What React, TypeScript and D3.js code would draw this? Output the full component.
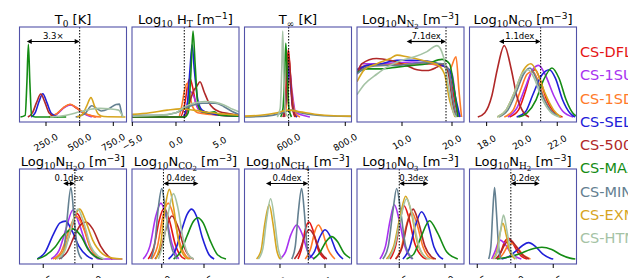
import React from "react";
import * as d3 from "d3";

// legend / series
const seriesNames = ["CS-DFLT", "CS-1SUN", "CS-1SDN", "CS-SELF", "CS-500W", "CS-MAX", "CS-MIN", "CS-EXM", "CS-HTM"];
const seriesColors = ["#e51515", "#a832f0", "#ff7a28", "#2020d8", "#b02828", "#148c14", "#648091", "#d7a51e", "#a5c3a5"];

// titles: [text, level] level 0 normal, 1 sub, 2 sub-sub, 3 sup
const panelTitles: [string, number][][] = [
  [["T", 0], ["0", 1], [" [K]", 0]],
  [["Log", 0], ["10", 1], [" H", 0], ["T", 1], [" [m", 0], ["\u22121", 3], ["]", 0]],
  [["T", 0], ["\u221e", 1], [" [K]", 0]],
  [["Log", 0], ["10", 1], ["N", 0], ["N", 1], ["2", 2], [" [m", 0], ["\u22123", 3], ["]", 0]],
  [["Log", 0], ["10", 1], ["N", 0], ["CO", 1], [" [m", 0], ["\u22123", 3], ["]", 0]],
  [["Log", 0], ["10", 1], ["N", 0], ["H", 1], ["2", 2], ["O", 1], [" [m", 0], ["\u22123", 3], ["]", 0]],
  [["Log", 0], ["10", 1], ["N", 0], ["CO", 1], ["2", 2], [" [m", 0], ["\u22123", 3], ["]", 0]],
  [["Log", 0], ["10", 1], ["N", 0], ["CH", 1], ["4", 2], [" [m", 0], ["\u22123", 3], ["]", 0]],
  [["Log", 0], ["10", 1], ["N", 0], ["O", 1], ["3", 2], [" [m", 0], ["\u22123", 3], ["]", 0]],
  [["Log", 0], ["10", 1], ["N", 0], ["H", 1], ["2", 2], [" [m", 0], ["\u22123", 3], ["]", 0]],
];

const panelDomains = [
  [53, 848], [-5.04, 7.22], [444, 822], [1, 22.4], [17.03, 23.09],
  [11.3, 16.71], [8.24, 14.57], [3.03, 8.97], [10.19, 16.04], [11.99, 19.03],
];
const panelTicks = [
  [250, 500, 750], [-5, 0, 5], [600, 800], [10, 20], [18, 20, 22],
  [12.5, 15], [10, 12.5], [5, 7.5], [12.5, 15], [12.5, 15, 17.5],
];
// dotted reference value and the far end of the double arrow
const markerValues = [500, 0.95, 600, 18.8, 21.06, 14.1, 10.1, 6.57, 12.5, 14.71];
const arrowEnds: (number | null)[] = [107, null, null, 10.93, 18.7, 13.51, 12.17, 4.22, 14.09, 16.6];
const arrowLabels = ["3.3\u00d7", "", "", "7.1dex", "1.1dex", "0.1dex", "0.4dex", "0.4dex", "0.3dex", "0.2dex"];

// curves: x, density pairs (density as share of panel height), series order as seriesNames
const t0Curves = [
  [275, 0, 335, 0.04, 383, 0.11, 430, 0.145, 478, 0.1, 535, 0.04, 620, 0],
  [280, 0, 335, 0.04, 385, 0.11, 435, 0.14, 485, 0.1, 540, 0.03, 590, 0],
  [270, 0, 330, 0.04, 380, 0.11, 428, 0.148, 475, 0.11, 530, 0.05, 600, 0.01, 660, 0],
  [140, 0, 170, 0.05, 198, 0.18, 226, 0.27, 256, 0.17, 290, 0.04, 340, 0],
  [115, 0, 150, 0.05, 180, 0.17, 211, 0.267, 242, 0.17, 272, 0.05, 320, 0],
  [60, 0, 95, 0.02, 108, 0.4, 119, 0.845, 130, 0.4, 143, 0.02, 170, 0, 400, 0],
  [470, 0, 540, 0.04, 590, 0.13, 625, 0.1, 660, 0.07, 720, 0.1, 770, 0.145, 795, 0.15, 808, 0.07, 818, 0],
  [480, 0, 520, 0.03, 550, 0.12, 584, 0.225, 612, 0.12, 640, 0.03, 680, 0.005, 840, 0],
  [280, 0, 400, 0.02, 500, 0.06, 580, 0.09, 650, 0.1, 720, 0.095, 790, 0.08, 812, 0.03, 825, 0],
];
const htCurves = [
  [-5, 0, 0.5, 0, 1.0, 0.15, 1.4, 0.4, 1.6, 0.45, 1.9, 0.35, 2.3, 0.15, 3.0, 0.07, 4.5, 0.03, 7.2, 0.01],
  [-5, 0, 0.8, 0, 1.2, 0.1, 1.6, 0.3, 2.0, 0.25, 2.5, 0.1, 3, 0.05, 4.5, 0.03, 7.2, 0.01],
  [-5, 0, 0.3, 0, 0.7, 0.15, 1.0, 0.32, 1.25, 0.39, 1.5, 0.3, 1.9, 0.12, 2.5, 0.05, 4, 0.03, 7.2, 0.01],
  [-5, 0, 0.8, 0, 1.3, 0.15, 1.6, 0.55, 1.85, 0.84, 2.1, 0.55, 2.5, 0.2, 3.0, 0.08, 4, 0.04, 5, 0.02, 7.2, 0.01],
  [-5, 0, 1.0, 0, 1.5, 0.15, 2.0, 0.3, 2.4, 0.36, 2.75, 0.41, 3.2, 0.3, 3.7, 0.18, 4.3, 0.1, 5, 0.06, 6, 0.04, 7.2, 0.02],
  [-5, 0, 1.0, 0, 1.4, 0.05, 1.7, 0.5, 1.95, 1.0, 2.2, 0.6, 2.5, 0.15, 3.0, 0.06, 3.8, 0.05, 4.4, 0.06, 5.0, 0.02, 7.2, 0.01],
  [-5, 0.02, -2, 0.02, 0, 0.05, 1, 0.1, 2, 0.14, 3, 0.16, 4.5, 0.16, 5.5, 0.12, 6.5, 0.06, 7.2, 0.03],
  [-5, 0.03, -3, 0.05, -1, 0.08, 0.5, 0.095, 2, 0.08, 4, 0.05, 6, 0.03, 7.2, 0.02],
  [-5, 0.01, -2, 0.02, 0, 0.05, 1, 0.12, 2, 0.16, 3.3, 0.18, 4.5, 0.17, 5.5, 0.14, 6.5, 0.09, 7.2, 0.06],
];
const tinfCurves = [
  [580, 0, 588, 0.15, 594, 0.6, 599, 0.78, 605, 0.55, 612, 0.15, 622, 0],
  [585, 0, 595, 0.3, 603, 0.55, 612, 0.3, 625, 0.05, 650, 0.02, 675, 0],
  [586, 0, 595, 0.2, 604, 0.45, 612, 0.25, 622, 0.05, 640, 0],
  [583, 0, 592, 0.25, 601, 0.6, 609, 0.3, 618, 0.05, 630, 0],
  [582, 0, 590, 0.2, 597, 0.6, 601, 0.7, 607, 0.45, 615, 0.1, 625, 0],
  [572, 0, 580, 0.1, 586, 0.5, 590, 0.857, 595, 0.5, 601, 0.1, 610, 0],
  [444, 0, 520, 0.01, 570, 0.04, 595, 0.07, 610, 0.08, 640, 0.05, 700, 0.02, 822, 0.005],
  [444, 0.01, 500, 0.02, 560, 0.05, 600, 0.08, 640, 0.06, 700, 0.03, 760, 0.015, 822, 0.01],
  [560, 0, 570, 0.1, 576, 0.6, 579, 1.0, 583, 0.5, 589, 0.05, 600, 0],
];
const n2Curves = [
  [1, 0.52, 3, 0.6, 6, 0.62, 9, 0.61, 12, 0.62, 15, 0.62, 17.5, 0.6, 19, 0.58, 20.5, 0.2, 21.2, 0],
  [1, 0.5, 2, 0.62, 5, 0.62, 9, 0.63, 12, 0.64, 15, 0.62, 18, 0.6, 20, 0.5, 21, 0.1, 21.5, 0],
  [1, 0.55, 3, 0.6, 6, 0.6, 9, 0.62, 12, 0.62, 15, 0.62, 18, 0.6, 19.5, 0.55, 20.8, 0.7, 21.4, 0.3, 21.9, 0],
  [1, 0.55, 3, 0.6, 6, 0.62, 9, 0.66, 12, 0.66, 15, 0.65, 18, 0.6, 19.5, 0.55, 20.8, 0.2, 21.6, 0],
  [1, 0.5, 2, 0.62, 4.9, 0.68, 7.6, 0.66, 10.9, 0.6, 13, 0.55, 15, 0.54, 17, 0.58, 18.3, 0.62, 19.3, 0.5, 20.3, 0.1, 20.9, 0],
  [1, 0.52, 3, 0.56, 6, 0.56, 9, 0.58, 12, 0.6, 15, 0.62, 18, 0.67, 19.5, 0.62, 20.5, 0.3, 21.2, 0],
  [1, 0.5, 3, 0.58, 6, 0.6, 9, 0.6, 12, 0.62, 15, 0.63, 18, 0.62, 19.3, 0.55, 20.2, 0.2, 20.9, 0],
  [1, 0.41, 2.5, 0.55, 5, 0.62, 7.6, 0.68, 9, 0.72, 11, 0.7, 14, 0.66, 17, 0.61, 18.5, 0.5, 19.5, 0.2, 20.6, 0],
  [1, 0.26, 2.5, 0.38, 5, 0.5, 7.6, 0.6, 10, 0.66, 12.5, 0.7, 15, 0.76, 17, 0.83, 18.3, 0.7, 19.3, 0.35, 20.3, 0.05, 20.9, 0],
];
const coCurves = [
  [19.3, 0, 19.8, 0.08, 20.2, 0.3, 20.5, 0.5, 20.75, 0.55, 21.0, 0.45, 21.4, 0.2, 21.9, 0.04, 22.3, 0],
  [19.2, 0, 19.7, 0.1, 20.2, 0.35, 20.6, 0.55, 20.95, 0.6, 21.3, 0.5, 21.8, 0.25, 22.3, 0.07, 22.9, 0],
  [19.0, 0, 19.5, 0.08, 19.9, 0.3, 20.3, 0.5, 20.6, 0.53, 20.9, 0.43, 21.3, 0.2, 21.8, 0.04, 22.2, 0],
  [19.7, 0, 20.2, 0.06, 20.6, 0.25, 21.1, 0.48, 21.55, 0.55, 21.9, 0.45, 22.3, 0.2, 22.7, 0.05, 23.0, 0],
  [17.5, 0, 17.9, 0.05, 18.3, 0.25, 18.6, 0.55, 19.0, 0.83, 19.4, 0.55, 19.7, 0.25, 20.1, 0.05, 20.4, 0],
  [19.8, 0, 20.3, 0.05, 20.8, 0.2, 21.2, 0.42, 21.7, 0.57, 22.1, 0.45, 22.5, 0.2, 22.9, 0.04, 23.09, 0.01],
  [18.7, 0, 19.2, 0.08, 19.7, 0.3, 20.1, 0.5, 20.45, 0.57, 20.8, 0.45, 21.2, 0.23, 21.7, 0.06, 22.2, 0],
  [18.6, 0, 19.1, 0.08, 19.6, 0.3, 20.1, 0.55, 20.5, 0.62, 20.9, 0.5, 21.3, 0.28, 21.8, 0.08, 22.2, 0],
  [18.6, 0, 19.1, 0.08, 19.6, 0.3, 20.0, 0.5, 20.35, 0.55, 20.7, 0.45, 21.1, 0.23, 21.6, 0.06, 22.1, 0],
];
const h2oCurves = [
  [13.1, 0, 13.5, 0.08, 13.9, 0.33, 14.2, 0.53, 14.5, 0.4, 14.9, 0.13, 15.3, 0.02, 15.5, 0],
  [12.9, 0, 13.3, 0.1, 13.65, 0.35, 14.0, 0.57, 14.3, 0.42, 14.7, 0.15, 15.1, 0.03, 15.3, 0, 16.5, 0],
  [13.0, 0, 13.4, 0.08, 13.8, 0.33, 14.15, 0.5, 14.5, 0.38, 14.9, 0.12, 15.3, 0.02, 15.5, 0],
  [12.2, 0, 12.6, 0.08, 13.0, 0.28, 13.35, 0.42, 13.63, 0.44, 13.95, 0.33, 14.3, 0.15, 14.7, 0.04, 15.0, 0],
  [13.3, 0, 13.7, 0.08, 14.1, 0.28, 14.4, 0.4, 14.66, 0.43, 15.0, 0.35, 15.4, 0.15, 15.8, 0.03, 16.0, 0],
  [12.2, 0, 12.6, 0.04, 13.1, 0.14, 13.5, 0.27, 14.0, 0.35, 14.4, 0.27, 14.8, 0.1, 15.2, 0.02, 15.5, 0],
  [13.4, 0, 13.55, 0.1, 13.7, 0.45, 13.9, 0.83, 14.07, 0.45, 14.25, 0.1, 14.45, 0],
  [13.1, 0, 13.5, 0.08, 13.9, 0.35, 14.15, 0.53, 14.35, 0.58, 14.6, 0.47, 15.0, 0.22, 15.5, 0.06, 16.0, 0.01, 16.5, 0],
  [13.2, 0, 13.6, 0.1, 13.95, 0.4, 14.25, 0.58, 14.55, 0.42, 14.9, 0.15, 15.3, 0.03, 15.6, 0],
];
const co2Curves = [
  [9.2, 0, 9.55, 0.15, 9.85, 0.45, 10.14, 0.59, 10.45, 0.45, 10.8, 0.17, 11.2, 0.02, 11.4, 0],
  [8.9, 0, 9.3, 0.15, 9.65, 0.5, 9.95, 0.65, 10.25, 0.5, 10.6, 0.18, 11.0, 0],
  [9.4, 0, 9.75, 0.15, 10.05, 0.48, 10.38, 0.65, 10.7, 0.5, 11.05, 0.2, 11.5, 0.02, 11.7, 0],
  [10.4, 0, 10.8, 0.1, 11.2, 0.35, 11.5, 0.52, 11.77, 0.58, 12.05, 0.5, 12.4, 0.25, 12.8, 0.05, 13.1, 0],
  [9.6, 0, 9.95, 0.12, 10.3, 0.38, 10.6, 0.5, 10.95, 0.38, 11.3, 0.15, 11.7, 0.02, 11.9, 0],
  [10.7, 0, 11.1, 0.08, 11.5, 0.27, 11.85, 0.43, 12.13, 0.48, 12.45, 0.42, 12.85, 0.22, 13.3, 0.05, 13.8, 0],
  [9.35, 0, 9.6, 0.2, 9.8, 0.6, 10.0, 0.82, 10.2, 0.6, 10.5, 0.2, 10.9, 0],
  [9.65, 0, 9.95, 0.2, 10.2, 0.6, 10.45, 0.81, 10.7, 0.6, 11.0, 0.2, 11.4, 0.02, 11.6, 0],
  [9.8, 0, 10.1, 0.2, 10.4, 0.55, 10.69, 0.76, 10.95, 0.6, 11.25, 0.25, 11.6, 0.04, 11.9, 0],
];
const ch4Curves = [
  [6.0, 0, 6.2, 0.12, 6.4, 0.34, 6.61, 0.43, 6.85, 0.32, 7.1, 0.12, 7.5, 0],
  [5.0, 0, 5.3, 0.08, 5.6, 0.28, 5.93, 0.395, 6.25, 0.28, 6.55, 0.08, 6.9, 0],
  [6.4, 0, 6.7, 0.12, 6.95, 0.33, 7.13, 0.395, 7.35, 0.32, 7.65, 0.12, 8.05, 0],
  [6.55, 0, 6.9, 0.08, 7.2, 0.25, 7.5, 0.34, 7.8, 0.26, 8.1, 0.1, 8.5, 0],
  [5.8, 0, 6.1, 0.1, 6.4, 0.28, 6.63, 0.34, 6.9, 0.27, 7.2, 0.1, 7.6, 0],
  [6.85, 0, 7.2, 0.07, 7.55, 0.2, 7.87, 0.26, 8.2, 0.2, 8.55, 0.07, 8.9, 0.01],
  [5.65, 0, 5.85, 0.15, 6.02, 0.55, 6.2, 0.82, 6.35, 0.55, 6.5, 0.15, 6.65, 0],
  [3.7, 0, 3.95, 0.1, 4.15, 0.4, 4.4, 0.63, 4.62, 0.4, 4.82, 0.1, 5.0, 0],
  [3.8, 0, 4.05, 0.12, 4.25, 0.45, 4.48, 0.7, 4.7, 0.45, 4.9, 0.12, 5.1, 0],
];
const o3Curves = [
  [12.0, 0, 12.3, 0.15, 12.55, 0.45, 12.76, 0.62, 13.0, 0.5, 13.35, 0.18, 13.8, 0.02, 14.0, 0],
  [11.44, 0, 11.75, 0.15, 12.0, 0.45, 12.23, 0.63, 12.5, 0.45, 12.8, 0.15, 13.2, 0],
  [12.3, 0, 12.6, 0.12, 12.9, 0.4, 13.17, 0.55, 13.45, 0.42, 13.8, 0.14, 14.2, 0.01, 14.4, 0],
  [12.7, 0, 13.05, 0.12, 13.4, 0.4, 13.72, 0.55, 14.05, 0.42, 14.4, 0.14, 14.8, 0.01, 14.9, 0],
  [12.3, 0, 12.65, 0.13, 12.95, 0.42, 13.26, 0.58, 13.55, 0.43, 13.9, 0.15, 14.3, 0.02, 14.5, 0],
  [12.9, 0, 13.3, 0.06, 13.7, 0.26, 14.15, 0.445, 14.6, 0.3, 15.1, 0.08, 15.7, 0],
  [11.6, 0, 11.9, 0.15, 12.15, 0.55, 12.36, 0.82, 12.58, 0.55, 12.85, 0.15, 13.25, 0],
  [11.8, 0, 12.2, 0.15, 12.55, 0.5, 12.85, 0.73, 13.15, 0.55, 13.5, 0.18, 14.0, 0.01, 14.1, 0],
  [11.9, 0, 12.25, 0.15, 12.6, 0.5, 12.9, 0.7, 13.2, 0.52, 13.55, 0.17, 14.0, 0.01, 14.2, 0],
];
const h2Curves = [
  [13.8, 0, 14.05, 0.08, 14.3, 0.2, 14.56, 0.24, 14.85, 0.18, 15.2, 0.07, 15.6, 0.01, 15.8, 0],
  [13.45, 0, 13.7, 0.1, 13.9, 0.2, 14.0, 0.22, 14.3, 0.18, 14.6, 0.1, 15.0, 0.03, 15.4, 0],
  [13.9, 0, 14.2, 0.06, 14.5, 0.15, 14.78, 0.18, 15.1, 0.14, 15.5, 0.05, 16.0, 0],
  [14.1, 0, 14.6, 0.03, 15.1, 0.1, 15.5, 0.16, 15.88, 0.19, 16.3, 0.15, 16.8, 0.06, 17.3, 0.01, 17.5, 0],
  [13.7, 0, 14.0, 0.06, 14.35, 0.18, 14.67, 0.22, 15.0, 0.16, 15.4, 0.06, 15.9, 0],
  [13.8, 0, 14.5, 0.02, 15.3, 0.06, 16.0, 0.11, 16.75, 0.136, 17.4, 0.11, 18.0, 0.05, 18.6, 0.01, 18.95, 0],
  [13.25, 0, 13.4, 0.15, 13.52, 0.55, 13.64, 0.83, 13.76, 0.55, 13.9, 0.15, 14.05, 0],
  [13.55, 0, 13.8, 0.1, 14.0, 0.3, 14.19, 0.415, 14.4, 0.28, 14.65, 0.08, 15.0, 0],
  [13.6, 0, 13.85, 0.1, 14.05, 0.35, 14.23, 0.51, 14.45, 0.33, 14.7, 0.1, 15.1, 0],
];

const panelCurves = [t0Curves, htCurves, tinfCurves, n2Curves, coCurves, h2oCurves, co2Curves, ch4Curves, o3Curves, h2Curves];

// layout
const colLeft = [19.5, 132, 244.5, 357, 469.5];
const rowTop = [27, 169];
const panelW = 107;
const panelH = 95;
const frameColor = "#5252a8";
const sans = "DejaVu Sans, sans-serif";
const serif = "DejaVu Serif, serif";

const levelSize = [13, 9, 7, 9];
const levelShift = [0, 3.5, 5.5, -5];

const toPairs = (flat: number[]) => d3.range(0, flat.length, 2).map((k) => [flat[k], flat[k + 1]] as [number, number]);

const Title = ({ parts, x, y }: { parts: [string, number][]; x: number; y: number }) => {
  let prev = 0;
  return (
    <text x={x} y={y} textAnchor="middle" fontFamily={sans} fontSize={13} fill="#000">
      {parts.map(([t, lvl], k) => {
        const dy = levelShift[lvl] - prev;
        prev = levelShift[lvl];
        return (
          <tspan key={k} dy={dy} fontSize={levelSize[lvl]} fontFamily={lvl === 1 || lvl === 2 ? serif : sans}>
            {t}
          </tspan>
        );
      })}
    </text>
  );
};

const Arrow = ({ x1, x2, y }: { x1: number; x2: number; y: number }) => {
  const a = Math.min(x1, x2), b = Math.max(x1, x2);
  const hl = 5, hw = 2.6;
  return (
    <g>
      <line x1={a + hl - 1} x2={b - hl + 1} y1={y} y2={y} stroke="#000" strokeWidth={1.2} />
      <polygon points={`${a},${y} ${a + hl},${y - hw} ${a + hl},${y + hw}`} fill="#000" />
      <polygon points={`${b},${y} ${b - hl},${y - hw} ${b - hl},${y + hw}`} fill="#000" />
    </g>
  );
};

const Panel = ({ i }: { i: number }) => {
  const row = Math.floor(i / 5), col = i % 5;
  const left = colLeft[col], top = rowTop[row];
  const bottom = top + panelH;
  const x = d3.scaleLinear().domain(panelDomains[i]).range([left, left + panelW]);
  const y = d3.scaleLinear().domain([0, 1]).range([bottom - 5, top + 4]);
  const line = d3.line<[number, number]>().x((d) => x(d[0])).y((d) => y(d[1])).curve(d3.curveMonotoneX);
  const fmt = d3.format(".1f");
  const mx = x(markerValues[i]);
  const end = arrowEnds[i];
  const labelY = row === 0 ? 142.5 : 283;
  return (
    <g>
      <clipPath id={`clip${i}`}>
        <rect x={left} y={top} width={panelW} height={panelH} />
      </clipPath>
      <g clipPath={`url(#clip${i})`}>
        {panelCurves[i].map((c, s) => (
          <path key={s} d={line(toPairs(c)) || ""} fill="none" stroke={seriesColors[s]} strokeWidth={1.6} />
        ))}
      </g>
      <line x1={mx} x2={mx} y1={top} y2={bottom} stroke="#000" strokeWidth={1} strokeDasharray="1.5,1.5" />
      {end !== null && (
        <g>
          <Arrow x1={x(end)} x2={mx} y={top + 14.5} />
          <text x={(x(end) + mx) / 2} y={top + 12} textAnchor="middle" fontFamily={sans} fontSize={8.5}>
            {arrowLabels[i]}
          </text>
        </g>
      )}
      <rect x={left} y={top} width={panelW} height={panelH} fill="none" stroke={frameColor} strokeWidth={1.1} />
      {panelTicks[i].map((t) => (
        <g key={t}>
          <line x1={x(t)} x2={x(t)} y1={bottom} y2={bottom + 4} stroke="#000" strokeWidth={1} />
          <text
            transform={`translate(${x(t)},${labelY}) rotate(-30)`}
            textAnchor="middle"
            dominantBaseline="central"
            fontFamily={sans}
            fontSize={9}
          >
            {fmt(t)}
          </text>
        </g>
      ))}
      <Title parts={panelTitles[i]} x={left + panelW / 2} y={top - 3.5} />
    </g>
  );
};

export default function App() {
  return (
    <div style={{ position: "absolute", left: 0, top: 0 }}>
      <svg width={628} height={278} style={{ display: "block", background: "#fff" }}>
        {d3.range(10).map((i) => (
          <Panel key={i} i={i} />
        ))}
        {seriesNames.map((n, k) => (
          <text key={n} x={580} y={52 + 23.25 * k} dominantBaseline="central" fontFamily={sans} fontSize={14.5} fill={seriesColors[k]}>
            {n}
          </text>
        ))}
      </svg>
    </div>
  );
}
